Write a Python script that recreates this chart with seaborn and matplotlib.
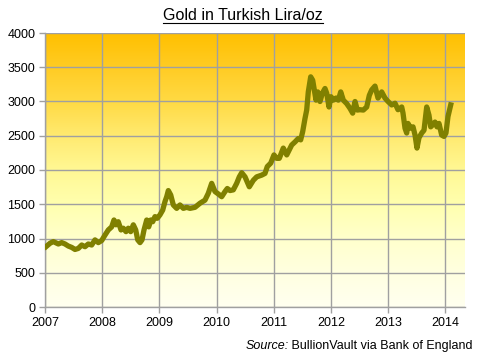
import numpy as np
import pandas as pd
import matplotlib
matplotlib.use("Agg")
import matplotlib.pyplot as plt
from matplotlib.colors import LinearSegmentedColormap
from matplotlib.lines import Line2D
import seaborn as sns

# ---- data ----
years = [2007.017, 2007.087, 2007.145, 2007.233, 2007.292, 2007.350, 2007.407, 2007.467,
         2007.524, 2007.582, 2007.642, 2007.699, 2007.757, 2007.816, 2007.874, 2007.932,
         2007.991, 2008.049, 2008.107, 2008.166, 2008.206, 2008.241, 2008.281, 2008.329,
         2008.369, 2008.416, 2008.456, 2008.498, 2008.544, 2008.586, 2008.621, 2008.661,
         2008.696, 2008.731, 2008.778, 2008.813, 2008.848, 2008.883, 2008.923, 2008.963,
         2009.010, 2009.058, 2009.098, 2009.128, 2009.156, 2009.198, 2009.243, 2009.302,
         2009.360, 2009.418, 2009.477, 2009.535, 2009.622, 2009.710, 2009.797, 2009.855,
         2009.914, 2009.972, 2010.030, 2010.089, 2010.147, 2010.187, 2010.234, 2010.292,
         2010.351, 2010.397, 2010.439, 2010.497, 2010.572, 2010.642, 2010.701, 2010.788,
         2010.846, 2010.886, 2010.946, 2011.003, 2011.051, 2011.096, 2011.166, 2011.226,
         2011.313, 2011.371, 2011.428, 2011.470, 2011.505, 2011.545, 2011.575, 2011.603,
         2011.645, 2011.680, 2011.708, 2011.738, 2011.768, 2011.808, 2011.848, 2011.895,
         2011.925, 2011.965, 2012.000, 2012.040, 2012.087, 2012.128, 2012.170, 2012.215,
         2012.274, 2012.332, 2012.379, 2012.420, 2012.460, 2012.507, 2012.565, 2012.624,
         2012.670, 2012.712, 2012.769, 2012.822, 2012.886, 2012.944, 2012.997, 2013.061,
         2013.119, 2013.171, 2013.236, 2013.259, 2013.294, 2013.323, 2013.346, 2013.393,
         2013.434, 2013.469, 2013.503, 2013.538, 2013.586, 2013.626, 2013.673, 2013.713,
         2013.743, 2013.778, 2013.818, 2013.853, 2013.888, 2013.935, 2013.976, 2014.010,
         2014.045, 2014.093]
prices = [880, 930, 955, 920, 940, 920, 890, 870,
          840, 855, 905, 880, 920, 905, 980, 940,
          970, 1050, 1125, 1170, 1270, 1200, 1245, 1125,
          1150, 1100, 1150, 1100, 1200, 1125, 980, 940,
          980, 1125, 1270, 1170, 1270, 1245, 1320, 1295,
          1345, 1415, 1540, 1610, 1700, 1635, 1490, 1440,
          1490, 1440, 1455, 1440, 1455, 1515, 1560, 1660,
          1805, 1685, 1650, 1610, 1685, 1730, 1700, 1710,
          1805, 1900, 1960, 1900, 1755, 1850, 1900, 1925,
          1950, 2050, 2100, 2220, 2170, 2170, 2320, 2220,
          2365, 2410, 2460, 2440, 2560, 2750, 2875, 3140,
          3360, 3310, 3170, 3020, 3140, 3000, 3120, 3190,
          3120, 2920, 3070, 3020, 3050, 3020, 3140, 3020,
          2970, 2900, 2830, 3000, 2875, 2880, 2875, 2920,
          3090, 3170, 3225, 3050, 3140, 3050, 3000, 2950,
          2975, 2880, 2920, 2830, 2610, 2540, 2680, 2610,
          2630, 2510, 2320, 2470, 2540, 2580, 2920, 2800,
          2630, 2660, 2700, 2630, 2680, 2510, 2490, 2540,
          2780, 2950]
year_ticks = [2007, 2008, 2009, 2010, 2011, 2012, 2013, 2014]
value_ticks = [0, 500, 1000, 1500, 2000, 2500, 3000, 3500, 4000]
title = "Gold in Turkish Lira/oz"

df = pd.DataFrame({"year": years, "price": prices})

plt.rcParams['font.family'] = ['Liberation Sans', 'DejaVu Sans']

fig = plt.figure(figsize=(4.80, 3.53), dpi=100)
W, H = 480, 353
L, R, T, B = 45, 465, 33, 307
ax = fig.add_axes([L / W, 1 - B / H, (R - L) / W, (B - T) / H])

xmin, xmax = 2007, 2007 + (R - L) / 57.2
ymin, ymax = 0, 4000

# gradient background
cmap = LinearSegmentedColormap.from_list(
    "bg", [(0.0, "#FFFFF0"), (0.125, "#FFFFE0"), (0.25, "#FFFFCC"),
           (0.375, "#FFFFAE"), (0.5, "#FFF894"), (0.625, "#FFEA70"),
           (0.75, "#FFDA44"), (0.875, "#FFCC24"), (1.0, "#FFC000")])
grad = np.linspace(0, 1, 256).reshape(-1, 1)
ax.imshow(grad, extent=[xmin, xmax, ymin, ymax], origin="lower",
          aspect="auto", cmap=cmap, zorder=0, interpolation="bicubic")

sns.lineplot(data=df, x="year", y="price", ax=ax, color="#808000",
             linewidth=3.8, zorder=3, legend=False)

ax.set_xlim(xmin, xmax)
ax.set_ylim(ymin, ymax)
ax.set_xticks(year_ticks)
ax.set_xticklabels([str(y) for y in year_ticks])
ax.set_yticks(value_ticks)
ax.set_yticklabels([str(v) for v in value_ticks])
ax.set_xlabel("")
ax.set_ylabel("")

ax.grid(True, color="#A0A0A0", linewidth=1.0, zorder=1)
ax.set_axisbelow(False)
for gl in ax.get_xgridlines() + ax.get_ygridlines():
    gl.set_zorder(1)

for s in ["top", "right"]:
    ax.spines[s].set_visible(False)
for s in ["left", "bottom"]:
    ax.spines[s].set_color("#A0A0A0")
    ax.spines[s].set_linewidth(1.0)
    ax.spines[s].set_zorder(2)

ax.tick_params(axis="both", colors="#A0A0A0", labelcolor="black",
               labelsize=9, length=4, width=1.0, direction="out")
ax.tick_params(axis="x", pad=3)
ax.tick_params(axis="y", pad=3)

# title, underlined
t = fig.text(243 / W, 1 - 16 / H, title, ha="center", va="center",
             fontsize=11.5, color="black")
fig.canvas.draw()
bb = t.get_window_extent(renderer=fig.canvas.get_renderer())
y_ul = (bb.y0 + 0.5) / fig.bbox.height
fig.add_artist(Line2D([bb.x0 / fig.bbox.width, bb.x1 / fig.bbox.width],
                      [y_ul, y_ul], color="black", linewidth=0.8,
                      transform=fig.transFigure))

# source line
src_rest = fig.text(473 / W, 1 - 346 / H, " BullionVault via Bank of England",
                    ha="right", va="center", fontsize=9, color="black")
fig.canvas.draw()
bb2 = src_rest.get_window_extent(renderer=fig.canvas.get_renderer())
fig.text(bb2.x0 / fig.bbox.width, 1 - 346 / H, "Source:", ha="right",
         va="center", fontsize=9, style="italic", color="black")

fig.savefig("out.png", dpi=100)
